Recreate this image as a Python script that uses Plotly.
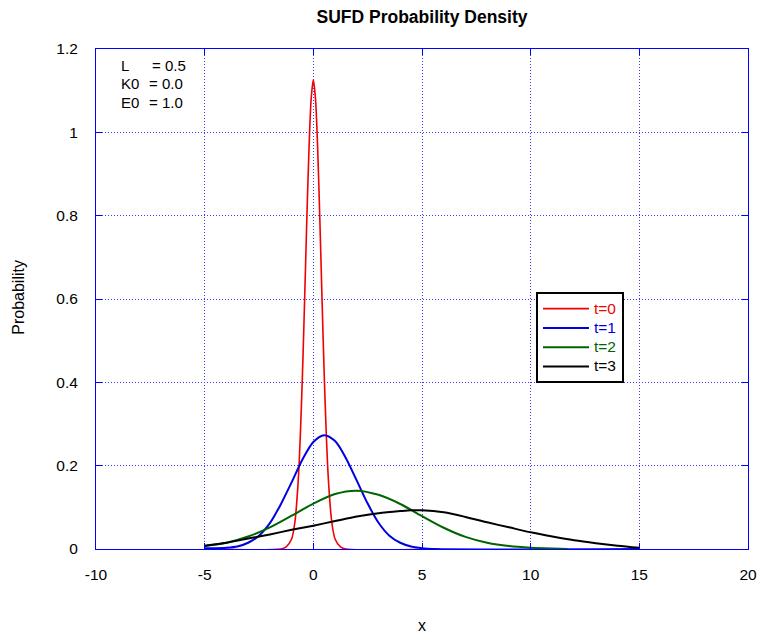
import plotly.graph_objects as go

# Probability density of the wave packet at successive times
x_t0 = [-5.0, -1.5, -1.25, -1.0, -0.85, -0.7, -0.6, -0.5, -0.4, -0.3, -0.2, -0.1, 0.0,
        0.1, 0.2, 0.3, 0.4, 0.5, 0.6, 0.7, 0.85, 1.0, 1.25, 1.5, 5.8]
p_t0 = [0.0, 0.0, 0.005, 0.024, 0.064, 0.16, 0.27, 0.42, 0.60, 0.79, 0.96, 1.08, 1.126,
        1.08, 0.96, 0.79, 0.60, 0.42, 0.27, 0.16, 0.064, 0.024, 0.005, 0.0, 0.0]

x_t1 = [-5.0, -4.5, -4.0, -3.5, -3.0, -2.5, -2.0, -1.5, -1.0, -0.5, 0.0, 0.5, 1.0,
        1.5, 2.0, 2.5, 3.0, 3.5, 4.0, 4.5, 5.0, 5.5, 15.0]
p_t1 = [0.002, 0.002, 0.003, 0.006, 0.015, 0.032, 0.062, 0.107, 0.160, 0.215, 0.257, 0.273, 0.259,
        0.218, 0.164, 0.109, 0.063, 0.032, 0.015, 0.006, 0.002, 0.0, 0.0]

x_t2 = [-5.0, -4.0, -3.0, -2.0, -1.0, 0.0, 1.0, 2.0, 3.0, 4.0, 5.0, 6.0, 7.0, 8.0,
        9.0, 10.0, 11.0, 11.7]
p_t2 = [0.007, 0.015, 0.030, 0.052, 0.080, 0.109, 0.132, 0.140, 0.130, 0.108, 0.079, 0.051, 0.029, 0.015,
        0.007, 0.003, 0.001, 0.0]

x_t3 = [-5.0, -4.0, -3.0, -2.0, -1.0, 0.0, 1.0, 2.0, 3.0, 4.0, 4.5, 5.0, 6.0, 7.0,
        8.0, 9.0, 10.0, 11.0, 12.0, 13.0, 14.0, 15.0]
p_t3 = [0.008, 0.015, 0.025, 0.035, 0.046, 0.056, 0.067, 0.078, 0.086, 0.091, 0.093, 0.093, 0.088, 0.077,
        0.064, 0.052, 0.040, 0.030, 0.021, 0.014, 0.008, 0.003]

series = [
    ("t=0", x_t0, p_t0, "#f00000", 1.6),
    ("t=1", x_t1, p_t1, "#0000e0", 2),
    ("t=2", x_t2, p_t2, "#006400", 2),
    ("t=3", x_t3, p_t3, "#000000", 2),
]

x_ticks = [-10, -5, 0, 5, 10, 15, 20]
x_tick_text = ["-10", "-5", "0", "5", "10", "15", "20"]
y_ticks = [0, 0.2, 0.4, 0.6, 0.8, 1.0, 1.2]
y_tick_text = ["0", "0.2", "0.4", "0.6", "0.8", "1", "1.2"]

params = [("L", "= 0.5"), ("K0", "= 0.0"), ("E0", "= 1.0")]

FONT = "Liberation Sans, Arial, sans-serif"
AXIS_BLUE = "#0000ff"
GRID_BLUE = "#3a3aff"

fig = go.Figure()
for name, xs, ps, color, width in series:
    fig.add_trace(go.Scatter(
        x=xs, y=ps, mode="lines",
        name=f'<span style="color:{color};font-size:15.5px">{name}</span>',
        line=dict(color=color, width=width, shape="spline", smoothing=0.8),
    ))

axis_common = dict(
    showline=True, linecolor=AXIS_BLUE, linewidth=1, mirror="allticks",
    ticks="inside", ticklen=6, tickcolor=AXIS_BLUE,
    showgrid=True, gridcolor=GRID_BLUE, gridwidth=1, griddash="1px,2px",
    zeroline=False, automargin=False,
    tickfont=dict(family=FONT, size=15.5, color="black"),
)

fig.update_xaxes(range=[-10, 20], tickvals=x_ticks, ticktext=x_tick_text,
                 ticklabelstandoff=11, **axis_common)
fig.update_yaxes(range=[0, 1.2], tickvals=y_ticks, ticktext=y_tick_text,
                 ticklabelstandoff=14, **axis_common)

annotations = [
    dict(text="x", xref="paper", yref="paper", x=0.5, y=-0.152,
         showarrow=False, font=dict(family=FONT, size=16, color="black"),
         xanchor="center", yanchor="middle"),
    dict(text="Probability", xref="paper", yref="paper", x=-0.12, y=0.504,
         showarrow=False, textangle=-90, font=dict(family=FONT, size=16, color="black"),
         xanchor="center", yanchor="middle"),
]
for i, (key, val) in enumerate(params):
    ypos = 1 - (16.5 + 18.3 * i) / 500
    annotations.append(dict(text=key, xref="paper", yref="paper", x=(119 - 96) / 652, y=ypos,
                            showarrow=False, xanchor="left", yanchor="middle",
                            font=dict(family=FONT, size=15, color="black")))
    xv = 150 if key == "L" else 147
    annotations.append(dict(text=val, xref="paper", yref="paper", x=(xv - 96) / 652, y=ypos,
                            showarrow=False, xanchor="left", yanchor="middle",
                            font=dict(family=FONT, size=15, color="black")))

fig.update_layout(
    width=761, height=637,
    margin=dict(l=96, r=13, t=49, b=88, autoexpand=False),
    paper_bgcolor="white", plot_bgcolor="white",
    title=dict(text="<b>SUFD Probability Density</b>", x=0.5, xref="paper",
               y=1 - 17 / 637, yref="container", xanchor="center", yanchor="middle",
               font=dict(family=FONT, size=17.5, color="black")),
    legend=dict(x=(536 - 96) / 652, y=(549 - 292) / 500, xanchor="left", yanchor="top",
                bordercolor="black", borderwidth=2, bgcolor="white",
                font=dict(family=FONT, size=12.5), tracegroupgap=0, itemwidth=46),
    annotations=annotations,
    showlegend=True,
)

fig.write_html("out.html")
